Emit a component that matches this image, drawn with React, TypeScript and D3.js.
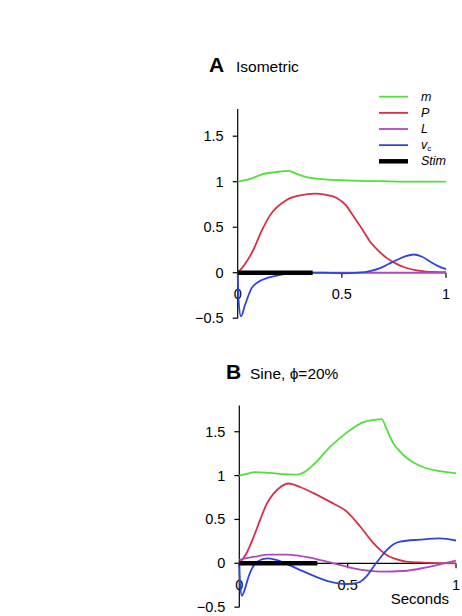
import React from "react";
import * as d3 from "d3";

// ---- Data ----
const xTicks = [0, 0.5, 1];
const xTickLabels = ["0", "0.5", "1"];
const yTicks = [-0.5, 0, 0.5, 1, 1.5];
const yTickLabels = ["\u22120.5", "0", "0.5", "1", "1.5"];
const stimEnd = 0.36;

// Panel A: Isometric
const aM: [number, number][] = [
  [0, 1.0], [0.06, 1.03], [0.123, 1.085], [0.18, 1.105], [0.243, 1.12], [0.29, 1.08],
  [0.33, 1.05], [0.42, 1.025], [0.52, 1.015], [0.7, 1.005], [0.85, 1.0], [1, 1.0],
];
const aP: [number, number][] = [
  [0, 0], [0.03, 0.08], [0.075, 0.25], [0.115, 0.46], [0.155, 0.63], [0.235, 0.8],
  [0.3, 0.85], [0.37, 0.87], [0.425, 0.855], [0.475, 0.82], [0.52, 0.74], [0.556, 0.62],
  [0.6, 0.47], [0.636, 0.34], [0.676, 0.24], [0.716, 0.16], [0.76, 0.1], [0.8, 0.06],
  [0.876, 0.02], [0.94, 0.008], [1, 0.005],
];
const aL: [number, number][] = [
  [0, 0], [0.25, 0], [0.5, 0], [0.75, 0], [1, 0],
];
const aVc: [number, number][] = [
  [0, 0], [0.004, -0.3], [0.016, -0.48], [0.035, -0.355], [0.067, -0.17], [0.1, -0.1],
  [0.147, -0.055], [0.21, -0.02], [0.3, -0.003], [0.4, 0], [0.5, -0.006], [0.58, 0.0],
  [0.64, 0.02], [0.684, 0.05], [0.724, 0.095], [0.764, 0.14], [0.805, 0.18], [0.845, 0.2],
  [0.885, 0.175], [0.925, 0.12], [0.965, 0.07], [1, 0.04],
];

// Panel B: Sine, phi = 20%
const bM: [number, number][] = [
  [0, 1.0], [0.035, 1.02], [0.074, 1.04], [0.14, 1.03], [0.22, 1.015], [0.266, 1.01],
  [0.3, 1.04], [0.34, 1.12], [0.42, 1.33], [0.496, 1.49], [0.573, 1.61], [0.62, 1.635],
  [0.657, 1.645], [0.68, 1.53], [0.71, 1.37], [0.74, 1.28], [0.773, 1.2], [0.81, 1.14],
  [0.85, 1.095], [0.926, 1.05], [1, 1.026],
];
const bP: [number, number][] = [
  [0, 0], [0.03, 0.1], [0.066, 0.3], [0.1, 0.52], [0.127, 0.68], [0.16, 0.8], [0.19, 0.87],
  [0.227, 0.91], [0.28, 0.87], [0.342, 0.8], [0.419, 0.7], [0.496, 0.59], [0.558, 0.42],
  [0.619, 0.23], [0.68, 0.095], [0.72, 0.05], [0.77, 0.02], [0.85, 0.008], [1, 0.0],
];
const bL: [number, number][] = [
  [0, 0.04], [0.07, 0.075], [0.14, 0.1], [0.22, 0.1], [0.28, 0.085], [0.34, 0.057],
  [0.435, 0.0], [0.527, -0.057], [0.6, -0.085], [0.65, -0.095], [0.757, -0.088],
  [0.865, -0.046], [0.94, -0.005], [1, 0.03],
];
const bVc: [number, number][] = [
  [0, 0], [0.004, -0.25], [0.012, -0.37], [0.025, -0.3], [0.043, -0.15], [0.074, 0.0],
  [0.105, 0.045], [0.135, 0.057], [0.175, 0.035], [0.22, -0.01], [0.312, -0.11],
  [0.404, -0.2], [0.45, -0.225], [0.496, -0.236], [0.53, -0.23], [0.558, -0.21],
  [0.59, -0.14], [0.619, -0.04], [0.65, 0.06], [0.68, 0.15], [0.71, 0.215], [0.742, 0.246],
  [0.834, 0.27], [0.926, 0.285], [1, 0.26],
];

const legendLabels = ["m", "P", "L", "v", "Stim"];
const colors = {
  m: "#4fe03a",
  P: "#d62f47",
  L: "#b049bd",
  vc: "#3044dc",
  stim: "#000000",
};

const FONT = "'Liberation Sans', Arial, Helvetica, sans-serif";

type Series = [number, number][];

function Panel(props: {
  x0: number; x1: number; y0: number; unit: number;
  m: Series; P: Series; L: Series; vc: Series; seconds?: boolean;
}) {
  const { x0, x1, y0, unit, m, P, L, vc, seconds } = props;
  const x = d3.scaleLinear().domain([0, 1]).range([x0, x1]);
  const y = d3.scaleLinear().domain([0, 1]).range([y0, y0 - unit]);
  const line = d3
    .line<[number, number]>()
    .x((d) => x(d[0]))
    .y((d) => y(d[1]))
    .curve(d3.curveMonotoneX);
  const axisX = x(0);
  return (
    <g>
      <line x1={axisX} x2={axisX} y1={y(1.8)} y2={y(-0.5)} stroke="#000" strokeWidth={1.2} />
      {yTicks.map((t, i) => (
        <g key={"yt" + i}>
          <line x1={axisX - 5} x2={axisX} y1={y(t)} y2={y(t)} stroke="#000" strokeWidth={1.2} />
          <text x={axisX - 14} y={y(t) + 5} textAnchor="end" fontSize={14.5} fontFamily={FONT}>
            {yTickLabels[i]}
          </text>
        </g>
      ))}
      <line x1={x(0)} x2={x(1)} y1={y(0)} y2={y(0)} stroke="#000" strokeWidth={1.2} />
      {xTicks.map((t, i) => (
        <g key={"xt" + i}>
          <line x1={x(t)} x2={x(t)} y1={y(0)} y2={y(0) + 5} stroke="#000" strokeWidth={1.2} />
          <text x={x(t)} y={y(0) + 26.5} textAnchor="middle" fontSize={14.5} fontFamily={FONT}>
            {xTickLabels[i]}
          </text>
        </g>
      ))}
      {seconds && (
        <text x={x(1) - 7} y={y(0) + 41} textAnchor="end" fontSize={15} fontFamily={FONT}>
          Seconds
        </text>
      )}
      <path d={line(m) || ""} fill="none" stroke={colors.m} strokeWidth={1.8} />
      <path d={line(P) || ""} fill="none" stroke={colors.P} strokeWidth={1.8} />
      <path d={line(L) || ""} fill="none" stroke={colors.L} strokeWidth={1.8} />
      <path d={line(vc) || ""} fill="none" stroke={colors.vc} strokeWidth={1.8} />
      <line x1={x(0)} x2={x(stimEnd)} y1={y(0)} y2={y(0)} stroke={colors.stim} strokeWidth={4.5} />
    </g>
  );
}

export default function App() {
  const legendColors = [colors.m, colors.P, colors.L, colors.vc, colors.stim];
  const legendY = d3.scaleLinear().domain([0, 4]).range([96.7, 161.3]);
  return (
    <svg
      width={462}
      height={616}
      style={{ position: "absolute", left: 0, top: 0, background: "#fff" }}
    >
      <rect width={462} height={616} fill="#fff" />
      <text x={209} y={72} fontSize={21} fontWeight="bold" fontFamily={FONT}>A</text>
      <text x={236} y={72} fontSize={15.5} fontFamily={FONT}>Isometric</text>
      <text x={226} y={379} fontSize={21} fontWeight="bold" fontFamily={FONT}>B</text>
      <text x={250} y={379} fontSize={15.5} fontFamily={FONT}>Sine, {"\u03d5"}=20%</text>

      {legendLabels.map((lab, i) => (
        <g key={"lg" + i}>
          <line
            x1={379}
            x2={408}
            y1={legendY(i)}
            y2={legendY(i)}
            stroke={legendColors[i]}
            strokeWidth={i === 4 ? 4.5 : 1.8}
          />
          <text
            x={421}
            y={legendY(i) + 4}
            fontSize={12.5}
            fontStyle="italic"
            fontFamily={FONT}
          >
            {lab}
            {i === 3 && (
              <tspan fontSize={8} fontStyle="normal" dy={2}>c</tspan>
            )}
          </text>
        </g>
      ))}

      <Panel x0={237.7} x1={446} y0={272.7} unit={91} m={aM} P={aP} L={aL} vc={aVc} />
      <Panel x0={239.3} x1={456} y0={563.3} unit={87.7} m={bM} P={bP} L={bL} vc={bVc} seconds />
    </svg>
  );
}
